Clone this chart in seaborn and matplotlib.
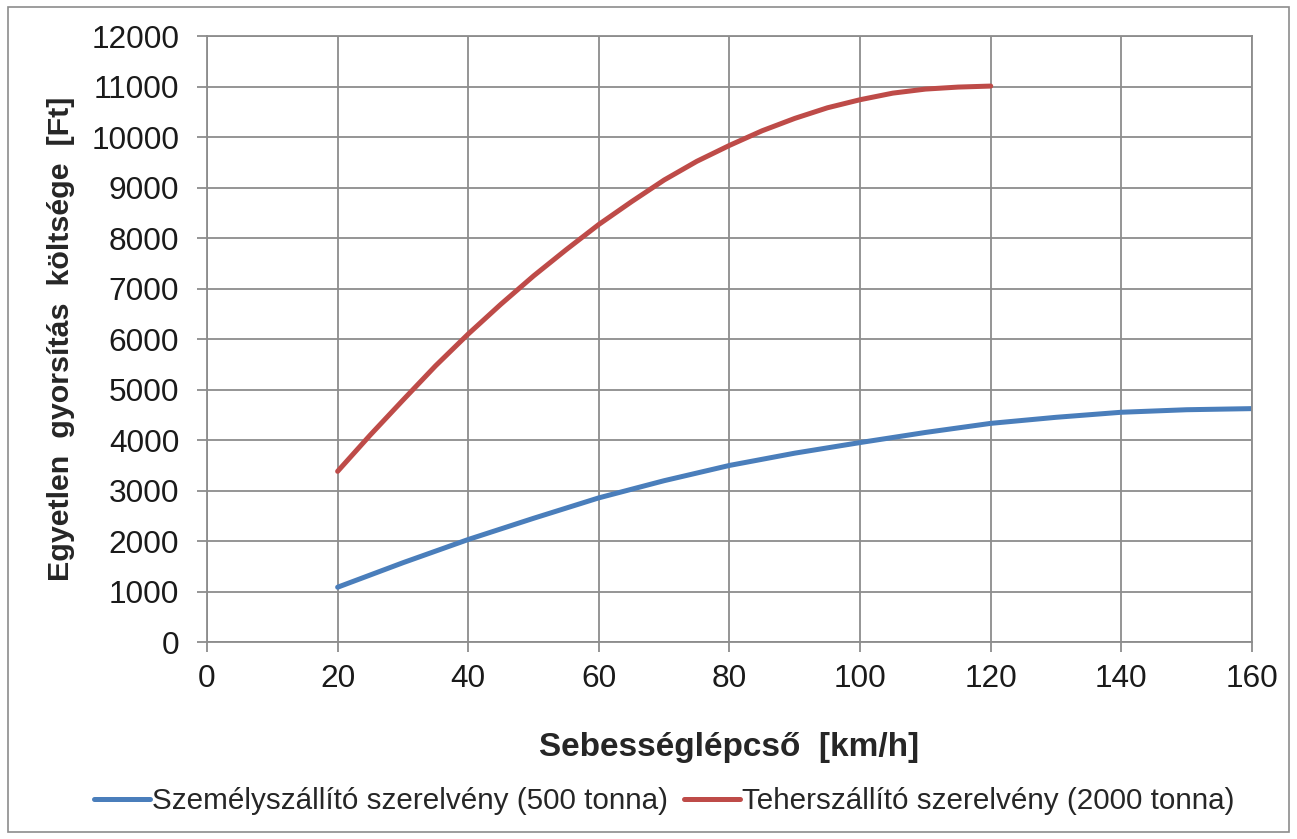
import matplotlib
matplotlib.use("Agg")
import matplotlib.pyplot as plt
import seaborn as sns
import pandas as pd
from matplotlib.patches import Rectangle

speed = [20, 30, 40, 50, 60, 70, 80, 90, 100, 110, 120, 130, 140, 150, 160]
szemely = [1085, 1570, 2030, 2450, 2855, 3195, 3497, 3740, 3950, 4150, 4330, 4450, 4550, 4600, 4622]
speed_teher = [20, 25, 30, 35, 40, 45, 50, 55, 60, 65, 70, 75, 80, 85, 90, 95, 100, 105, 110, 115, 120]
teher = [3380, 4100, 4790, 5470, 6100, 6690, 7250, 7770, 8270, 8720, 9150, 9520, 9835, 10125,
         10370, 10580, 10740, 10870, 10950, 10990, 11010]

label_a = "Személyszállító szerelvény (500 tonna)"
label_b = "Teherszállító szerelvény (2000 tonna)"

df = pd.concat([
    pd.DataFrame({"x": speed, "y": szemely, "s": label_a}),
    pd.DataFrame({"x": speed_teher, "y": teher, "s": label_b}),
])

sns.set_theme(style="white")
plt.rcParams["font.family"] = ["Liberation Sans", "DejaVu Sans"]

fig = plt.figure(figsize=(12.97, 8.39), dpi=100)
ax = fig.add_axes([0.1596, 0.2348, 0.8057, 0.7222])

sns.lineplot(data=df, x="x", y="y", hue="s", palette=["#4A7EBB", "#BE4B48"],
             linewidth=3.6, ax=ax, legend=True, sort=True)

ax.set_xlim(0, 160)
ax.set_ylim(0, 12000)
ax.set_xticks(range(0, 161, 20))
ax.set_yticks(range(0, 12001, 1000))
ax.grid(True, color="#8c8c8c", linewidth=1.3)
ax.set_axisbelow(True)
for sp in ax.spines.values():
    sp.set_color("#8c8c8c")
    sp.set_linewidth(1.3)
ax.tick_params(axis="both", which="major", direction="out", length=7, width=1.3,
               color="#8c8c8c", labelsize=22.8, labelcolor="#1a1a1a", left=True, bottom=True)
ax.tick_params(axis="y", pad=13)
ax.tick_params(axis="x", pad=9)

ax.set_xlabel("Sebességlépcső  [km/h]", fontsize=24, fontweight="bold", labelpad=27)
ax.set_ylabel("Egyetlen  gyorsítás  költsége  [Ft]", fontsize=21.9, fontweight="bold", labelpad=12)

handles, labels = ax.get_legend_handles_labels()
ax.legend(handles, labels, loc="center", bbox_to_anchor=(0.512, 0.045), bbox_transform=fig.transFigure,
          ncol=2, frameon=False, handlelength=1.9, handletextpad=0.05, columnspacing=0.55,
          prop={"family": ["Liberation Sans"], "size": 21.3})

fig.patches.append(Rectangle((0.006, 0.008), 0.988, 0.984, transform=fig.transFigure,
                             fill=False, edgecolor="#8c8c8c", linewidth=1.2))

fig.savefig("out.png", dpi=100, facecolor="white")
